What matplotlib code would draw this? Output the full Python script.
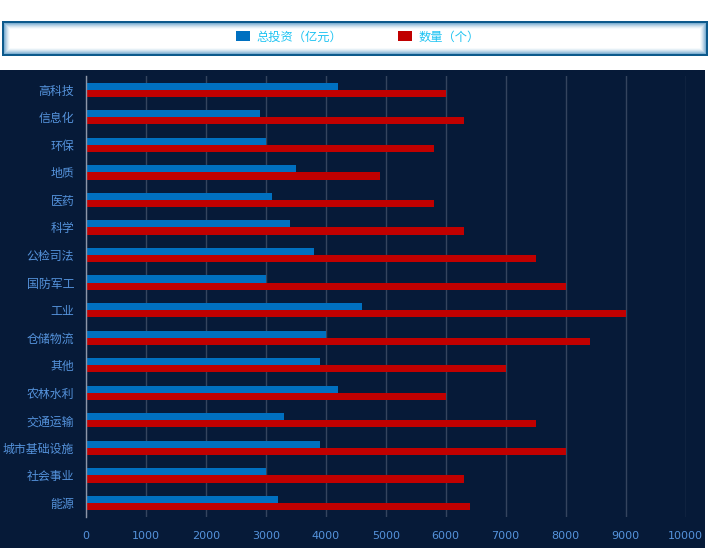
import matplotlib
matplotlib.use('Agg')
import matplotlib.pyplot as plt
import numpy as np
from matplotlib.patches import Rectangle
from matplotlib.colors import to_rgb

plt.rcParams['font.family'] = ['Noto Sans CJK SC', 'DejaVu Sans']

categories = ['高科技', '信息化', '环保', '地质', '医药', '科学', '公检司法', '国防军工',
              '工业', '仓储物流', '其他', '农林水利', '交通运输', '城市基础设施', '社会事业', '能源']
investment = [4200, 2900, 3000, 3500, 3100, 3400, 3800, 3000,
              4600, 4000, 3900, 4200, 3300, 3900, 3000, 3200]
count = [6000, 6300, 5800, 4900, 5800, 6300, 7500, 8000,
         9000, 8400, 7000, 6000, 7500, 8000, 6300, 6400]
xticks = [0, 1000, 2000, 3000, 4000, 5000, 6000, 7000, 8000, 9000, 10000]

W, H = 709, 548
bg = '#061a38'
blue = '#0070c0'
red = '#c00000'
label_col = '#5593dc'

fig = plt.figure(figsize=(W / 100, H / 100), dpi=100, facecolor='white')

# dark panel behind the chart
fig.add_artist(Rectangle((0, 0), 705 / W, (H - 70) / H, transform=fig.transFigure,
                         facecolor=bg, edgecolor='none', zorder=0))

# legend box: dark border, soft light-blue glow fading to white
x0, y0, x1, y1 = 2, 21, 708, 56
c_border = np.array(to_rgb('#0d5a8c'))
c_glow = np.array(to_rgb('#7fb0d2'))
white = np.array([1.0, 1.0, 1.0])
steps = 8
for i in range(steps + 1):
    if i < 2:
        col = c_border
    else:
        t = (i - 2) / (steps - 2)
        w = (1 - t) ** 1.5
        col = c_glow * w + white * (1 - w)
    fig.add_artist(Rectangle(((x0 + i) / W, (H - y1 + i) / H),
                             (x1 - x0 - 2 * i) / W, (y1 - y0 - 2 * i) / H,
                             transform=fig.transFigure, facecolor=col,
                             edgecolor='none', zorder=1))

ax = fig.add_axes([86 / W, (H - 516.7) / H, 599.5 / W, 440.7 / H])
ax.set_facecolor(bg)

y = np.arange(len(categories))
h = 0.26
b1 = ax.barh(y - h / 2, investment, height=h, color=blue, label='总投资（亿元）', zorder=3)
b2 = ax.barh(y + h / 2, count, height=h, color=red, label='数量（个）', zorder=3)

ax.set_xlim(0, 10000)
ax.set_ylim(len(categories) - 0.5, -0.5)
ax.set_xticks(xticks)
ax.set_xticklabels([str(v) for v in xticks], fontsize=8, color=label_col, family='DejaVu Sans')
ax.set_yticks(y)
ax.set_yticklabels(categories, fontsize=8.6, color=label_col)
ax.tick_params(axis='both', length=0)
ax.tick_params(axis='y', pad=8.5)
ax.tick_params(axis='x', pad=10)
ax.grid(axis='x', color='#34445e', linewidth=1, zorder=0)
for s in ['top', 'right', 'bottom']:
    ax.spines[s].set_visible(False)
ax.spines['left'].set_color('#8d96a8')
ax.spines['left'].set_linewidth(1)
ax.spines['left'].set_zorder(4)

leg = fig.legend(handles=[b1, b2], loc='center left',
                 bbox_to_anchor=(236 / W, 1 - 37 / H), ncol=2, frameon=False,
                 fontsize=8.8, handlelength=1.15, handleheight=0.9,
                 handletextpad=0.5, columnspacing=4.6, borderpad=0, borderaxespad=0)
for t in leg.get_texts():
    t.set_color('#1ec3f2')
leg.set_zorder(5)

fig.savefig('out.png', dpi=100, facecolor='white')
